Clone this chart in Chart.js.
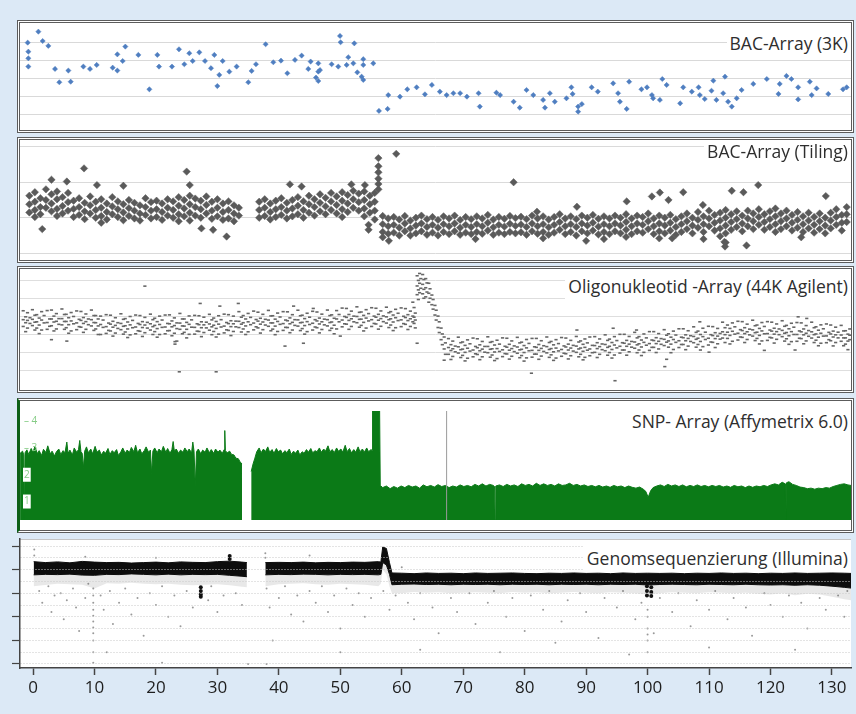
<!DOCTYPE html>
<html><head><meta charset="utf-8">
<script src="https://cdn.jsdelivr.net/npm/chart.js@4.4.1/dist/chart.umd.min.js"></script>
<style>
html,body{margin:0;padding:0;}
body{width:856px;height:714px;background:#dce9f6;position:relative;overflow:hidden;font-family:"Open Sans",sans-serif;}
.panel{position:absolute;box-sizing:border-box;border:3px double #5c5c5c;background:#fff;}
.panel canvas{display:block;}
#p4{border-left:3px solid #0c5f16;}
#p5bg{position:absolute;left:20px;top:539px;width:831px;height:129px;background:#fff;border-top:1px solid #c4c4c4;box-sizing:border-box;}
#c5{position:absolute;left:12px;top:530px;}
.ttl{position:absolute;right:5px;background:#fff;color:#2e2e2e;font-size:17.5px;line-height:24px;padding:0 3px;white-space:nowrap;z-index:5;}
</style></head>
<body>
<div class="panel" id="p1" style="left:17px;top:20px;width:837px;height:113px"><canvas id="c1" width="831" height="107"></canvas></div>
<div class="panel" id="p2" style="left:17px;top:137px;width:837px;height:126px"><canvas id="c2" width="831" height="120"></canvas></div>
<div class="panel" id="p3" style="left:17px;top:266px;width:837px;height:127px"><canvas id="c3" width="831" height="121"></canvas></div>
<div class="panel" id="p4" style="left:17px;top:398px;width:837px;height:135px"><canvas id="c4" width="831" height="129"></canvas></div>
<div id="p5bg"></div>
<canvas id="c5" width="844" height="184"></canvas>
<div class="ttl" style="top:31px">BAC-Array (3K)</div>
<div class="ttl" style="top:140px;line-height:22px">BAC-Array (Tiling)</div>
<div class="ttl" style="top:273px;line-height:26px">Oligonukleotid -Array (44K Agilent)</div>
<div class="ttl" style="top:409px">SNP- Array (Affymetrix 6.0)</div>
<div class="ttl" style="top:546px">Genomsequenzierung (Illumina)</div>
<script>
// ---------- axis values ----------
const X_MIN = -2.12, X_MAX = 133.1;
const xTicks = [0,10,20,30,40,50,60,70,80,90,100,110,120,130];
const bac3kTicks = [0,1,2,3,4];
const tilingTicks = [0,1,2,3];
const oligoTicks = [0,1,2,3,4,5];
const snpTicks = [1,2,3,4];
const illuminaTicks = [0,0.5,1,1.5,2,2.5,3,3.5,4,4.5,5];

// ---------- BAC-Array (3K): [position, value] ----------
const bac3kPoints = [
[-0.87,3.98],[-0.76,3.48],[-0.76,3.11],[-0.76,2.65],[0.87,4.59],[1.57,4.07],[2.49,3.80],[3.58,2.52],[4.28,1.78],[5.75,2.43],
[6.13,1.81],[8.19,2.65],[9.27,2.52],[10.36,2.74],[12.96,2.59],[13.72,2.43],[13.72,3.33],[14.59,2.96],[15.02,3.76],[17.14,3.30],
[18.93,1.39],[20.23,3.30],[20.50,2.65],[22.61,2.65],[23.75,3.61],[24.62,2.78],[25.43,3.39],[25.98,2.96],[27.06,3.44],[27.98,2.96],
[28.96,2.56],[29.50,3.30],[30.31,2.19],[29.99,1.57],[30.86,2.96],[31.94,2.37],[33.13,2.65],[35.03,1.78],[35.57,2.41],[36.28,2.78],
[37.85,3.89],[39.10,2.89],[40.35,2.98],[41.38,2.28],[42.62,3.02],[43.71,3.26],[44.79,2.52],[45.17,2.93],[46.42,2.37],[46.42,2.83],
[46.04,2.04],[46.42,1.85],[46.69,2.46],[48.59,2.78],[49.67,2.65],[49.95,4.35],[50.05,4.00],[51.03,2.74],[51.30,3.17],[52.28,3.94],
[52.77,2.33],[53.47,2.09],[53.74,1.91],[52.12,2.83],[53.74,3.06],[53.74,2.74],[55.37,2.83],[56.29,0.19],[57.70,0.30],[57.81,1.07],
[59.71,0.98],[60.90,1.39],[62.42,1.50],[63.77,1.11],[64.9,1.63],[66.2,1.26],[67.3,1.07],[68.4,1.17],[69.5,1.17],[70.6,0.98],
[72.5,1.17],[72.7,0.43],[75.4,1.20],[76.0,1.07],[78.2,0.70],[79.2,0.37],[80.3,1.35],[81.4,1.07],[83.0,0.80],[83.3,0.37],
[84.1,1.17],[84.9,0.70],[86.8,0.89],[87.6,1.50],[87.8,1.13],[88.7,0.43],[88.7,0.15],[89.3,0.57],[90.9,1.50],[91.9,1.26],
[94.4,1.72],[95.2,1.17],[95.5,0.70],[96.6,0.30],[97.0,1.81],[99.0,1.39],[99.9,1.50],[100.7,1.07],[100.9,0.89],[102.0,0.80],
[102.4,1.96],[103.1,1.63],[105.3,0.61],[105.8,1.50],[107.2,1.26],[108.3,1.50],[108.5,1.07],[109.3,0.85],[110.4,1.31],[110.7,1.87],
[111.2,0.80],[112.3,1.17],[112.6,2.09],[113.1,0.70],[113.7,0.43],[114.5,0.89],[115.3,1.35],[117.2,1.69],[119.4,1.96],[121.3,1.13],
[121.5,1.69],[122.6,2.13],[123.4,1.96],[124.5,1.50],[124.5,0.83],[126.4,1.81],[127.5,1.44],[126.7,1.07],[129.4,1.13],[131.8,1.39],[132.4,1.50]
];

// ---------- BAC-Array (Tiling): [position, values at that position...] ----------
const tilingCols = [
[-0.6,1.62,1.38,1.15],[0.3,1.72,1.45,1.22,1.02],[1.2,1.55,1.30,1.10],[2.1,1.80,1.50,1.28],[3.0,1.66,1.40,1.18],
[3.9,1.74,1.52,1.25,1.05],[4.8,1.58,1.33,1.12],[5.7,1.70,1.44,1.20],[6.6,1.48,1.25,1.02],[7.5,1.55,1.30,1.08],
[8.4,1.42,1.18,0.96],[9.3,1.60,1.35,1.12],[10.2,1.45,1.22,1.00],[11.1,1.52,1.28,1.05,0.86],[12.0,1.40,1.16,0.95],
[12.9,1.58,1.32,1.10],[13.8,1.46,1.24,1.02],[14.7,1.38,1.15,0.93],[15.6,1.50,1.27,1.05],[16.5,1.42,1.20,0.98],
[17.4,1.35,1.12,0.92],[18.3,1.55,1.30,1.08],[19.2,1.44,1.20,0.98],[20.1,1.48,1.24,1.02],[21.0,1.40,1.16,0.94],
[21.9,1.52,1.28,1.06],[22.8,1.46,1.22,1.00],[23.7,1.58,1.34,1.10,0.90],[24.6,1.50,1.26,1.04],[25.5,1.62,1.38,1.14,0.92],
[26.4,1.54,1.30,1.06],[27.3,1.48,1.24,1.00],[28.2,1.60,1.36,1.12],[29.1,1.45,1.20,0.97],[30.0,1.52,1.28,1.04],
[30.9,1.40,1.16,0.94],[31.8,1.46,1.22,0.98],[32.7,1.35,1.12,0.90],[33.5,1.28,1.06],
[36.8,1.45,1.22,1.00],[37.7,1.52,1.28,1.05],[38.6,1.40,1.16,0.95],[39.5,1.48,1.24,1.02],[40.4,1.55,1.30,1.08],
[41.3,1.42,1.20,0.98],[42.2,1.50,1.26,1.04],[43.1,1.58,1.34,1.10],[44.0,1.46,1.22,1.00],[44.9,1.62,1.38,1.14],
[45.8,1.52,1.30,1.06],[46.7,1.66,1.42,1.18],[47.6,1.56,1.32,1.10],[48.5,1.70,1.46,1.22],[49.4,1.60,1.36,1.12],
[50.3,1.72,1.48,1.24,1.02],[51.2,1.64,1.40,1.16],[52.1,1.76,1.52,1.28],[53.0,1.68,1.44,1.20],[53.9,1.74,1.50,1.26,1.04],
[54.8,1.62,1.38,1.14],[55.6,1.70,1.45,1.20,0.95],[56.2,2.68,2.45,2.28,2.10,1.95,1.80],
[56.9,1.05,0.82,0.60,0.45],[57.8,0.98,0.76,0.55],[58.7,1.02,0.80,0.58],[59.6,0.95,0.72,0.50],[60.5,1.05,0.84,0.62],
[61.4,0.92,0.70,0.50],[62.3,1.00,0.78,0.56],[63.2,1.06,0.84,0.62],[64.1,0.96,0.74,0.52],[65.0,1.02,0.80,0.58],
[65.9,0.94,0.72,0.50],[66.8,1.04,0.82,0.60],[67.7,0.98,0.76,0.54],[68.6,1.06,0.84,0.62],[69.5,0.94,0.72,0.52],
[70.4,1.02,0.80,0.58],[71.3,0.96,0.74,0.54],[72.2,1.04,0.82,0.60],[73.1,0.98,0.76,0.55],[74.0,1.08,0.86,0.64],
[74.9,0.95,0.73,0.52],[75.8,1.02,0.80,0.58],[76.7,0.97,0.75,0.54],[77.6,1.05,0.83,0.60],[78.5,0.99,0.77,0.56],
[79.4,1.03,0.81,0.59],[80.3,0.96,0.74,0.52],[81.2,1.06,0.84,0.62],[82.1,0.98,0.76,0.55],[83.0,1.04,0.82,0.60,0.42],
[83.9,0.95,0.73,0.52],[84.8,1.02,0.80,0.58],[85.7,1.10,0.88,0.66],[86.6,0.98,0.76,0.54],[87.5,1.04,0.82,0.60],
[88.4,0.96,0.74,0.50],[89.3,1.06,0.84,0.62],[90.2,1.00,0.78,0.56],[91.1,1.08,0.86,0.64],[92.0,0.97,0.75,0.53],
[92.9,1.04,0.82,0.60,0.40],[93.8,0.98,0.76,0.54],[94.7,1.06,0.84,0.62],[95.6,1.00,0.78,0.56],[96.5,1.10,0.88,0.66,0.46],
[97.4,0.98,0.76,0.54],[98.3,1.06,0.84,0.62],[99.2,1.02,0.80,0.58],[100.1,1.12,0.90,0.68],[101.0,0.98,0.76,0.54],
[101.9,1.06,0.84,0.62,0.42],[102.8,1.00,0.78,0.56],[103.7,1.08,0.86,0.64],[104.6,0.96,0.74,0.52],[105.5,1.04,0.82,0.60],
[106.4,1.12,0.90,0.68],[107.3,1.00,0.78,0.56],[108.2,1.16,0.94,0.72],[109.1,1.04,0.82,0.60,0.40],[110.0,1.20,0.98,0.76],
[110.9,1.08,0.86,0.64],[111.8,1.14,0.92,0.70,0.48],[112.7,1.22,1.00,0.78,0.56,0.30],[113.6,1.10,0.88,0.66],[114.5,1.18,0.96,0.74],
[115.4,1.06,0.84,0.62],[116.3,1.20,0.98,0.76],[117.2,1.12,0.90,0.68],[118.1,1.24,1.02,0.80],[119.0,1.10,0.88,0.66],
[119.9,1.18,0.96,0.74],[120.8,1.26,1.04,0.82,0.60],[121.7,1.12,0.90,0.68],[122.6,1.20,0.98,0.76],[123.5,1.08,0.86,0.64],
[124.4,1.16,0.94,0.72],[125.3,1.04,0.82,0.60],[126.2,1.14,0.92,0.70],[127.1,1.02,0.80,0.58],[128.0,1.12,0.90,0.68],
[128.9,1.00,0.78,0.56],[129.8,1.14,0.92,0.70],[130.7,1.24,1.02,0.80],[131.6,1.08,0.86,0.64],[132.4,1.30,1.10,0.88]
];
const tilingOutliers = [
[8.3,2.39],[25.0,2.30],[1.5,0.68],[31.5,0.47],[29.3,0.66],[27.4,0.70],[3.0,2.07],[5.5,2.02],[10.4,1.92],[14.7,1.90],
[25.5,1.92],[41.8,1.94],[43.7,1.88],[51.8,1.94],[54.0,1.92],[54.6,0.80],[54.6,0.66],[59.1,2.80],[78.2,2.0],[82.0,1.17],
[88.5,1.31],[96.6,1.46],[100.7,1.60],[102.0,1.71],[103.4,1.50],[105.8,1.72],[109.0,1.36],[113.7,1.76],[115.6,1.72],[118.0,1.92],
[129.0,1.61],[112.6,0.19],[112.5,0.32],[116.1,0.22],[57.9,0.35],[72.0,0.40],[90.0,0.35],[104.0,0.42],[125.0,0.45]
];

// ---------- Oligonukleotid-Array: [position, values...] ----------
const oligoCols = [
[-1.6,3.32,2.82,2.44],[-1.2,2.98,2.65,2.15],[-0.9,3.21,2.78,2.35],[-0.5,2.93,2.61],[-0.1,3.38,2.84,2.49],[0.3,3.07,2.68,2.24],
[0.6,3.10,2.70,2.35],[1.0,2.91,2.52,2.04],[1.4,3.27,2.80,2.24],[1.8,3.05,2.64],[2.3,3.33,2.66,2.28],[2.7,2.86,2.45],
[3.0,3.36,2.86,2.48],[3.4,3.02,2.69,2.19],[3.8,3.16,2.73,2.30],[4.2,2.88,2.56],[4.7,3.42,2.88,2.53],[5.1,3.11,2.72,2.28],
[5.4,3.12,2.72,2.37],[5.8,2.93,2.54,2.06],[6.2,3.22,2.75,2.19],[6.6,3.00,2.59],[7.1,3.31,2.64,2.26],[7.5,2.84,2.43],
[7.8,3.28,2.78,2.40],[8.2,2.94,2.61,2.11],[8.6,3.14,2.71,2.28],[9.0,2.86,2.54],[9.5,3.36,2.82,2.47],[9.9,3.05,2.66,2.22],
[10.2,3.05,2.65,2.30],[10.6,2.86,2.47,1.99],[11.0,3.02,2.55,1.99],[11.4,2.80,2.39],[11.9,3.10,2.43,2.05],[12.3,2.63,2.22],
[12.6,3.07,2.57,2.19],[13.0,2.73,2.40,1.90],[13.4,2.93,2.50,2.07],[13.8,2.65,2.33],[14.3,3.15,2.61,2.26],[14.7,2.84,2.45,2.01],
[15.0,2.88,2.48,2.13],[15.4,2.69,2.30,1.82],[15.8,3.00,2.53,1.97],[16.2,2.78,2.37],[16.7,3.08,2.41,2.03],[17.1,2.61,2.20],
[17.4,3.05,2.55,2.17],[17.8,2.71,2.38,1.88],[18.2,2.95,2.52,2.09],[18.6,2.67,2.35],[19.1,3.13,2.59,2.24],[19.5,2.82,2.43,1.99],
[19.8,2.90,2.50,2.15],[20.2,2.71,2.32,1.84],[20.6,3.02,2.55,1.99],[21.0,2.80,2.39],[21.5,3.08,2.41,2.03],[21.9,2.61,2.20],
[22.2,3.09,2.59,2.21],[22.6,2.75,2.42,1.92],[23.0,2.92,2.49,2.06],[23.4,2.64,2.32,1.62],[23.9,3.17,2.63,2.28],[24.3,2.86,2.47,2.03],
[24.6,2.86,2.46,2.11],[25.0,2.67,2.28,1.80],[25.4,3.03,2.56,2.00],[25.8,2.81,2.40],[26.3,3.06,2.39,2.01],[26.7,2.59,2.18],
[27.0,3.04,2.54,2.16],[27.4,2.70,2.37,1.87],[27.8,2.96,2.53,2.10],[28.2,2.68,2.36],[28.7,3.12,2.58,2.23],[29.1,2.81,2.42,1.98],
[29.4,2.91,2.51,2.16],[29.8,2.72,2.33,1.85],[30.2,3.04,2.57,2.01],[30.6,2.82,2.41],[31.1,3.13,2.46,2.08],[31.5,2.66,2.25],
[31.8,3.10,2.60,2.22],[32.2,2.76,2.43,1.93],[32.6,3.02,2.59,2.16],[33.0,2.74,2.42],[33.5,3.27,2.73,2.38],[33.9,2.96,2.57,2.13],
[34.2,3.05,2.65,2.30],[34.6,2.86,2.47,1.99],[35.0,3.17,2.70,2.14],[35.4,2.95,2.54],[35.9,3.30,2.63,2.25],[36.3,2.83,2.42],
[36.6,3.24,2.74,2.36],[37.0,2.90,2.57,2.07],[37.4,3.12,2.69,2.26],[37.8,2.84,2.52],[38.3,3.34,2.80,2.45],[38.7,3.03,2.64,2.20],
[39.0,3.04,2.64,2.29],[39.4,2.85,2.46,1.98],[39.8,3.19,2.72,2.16],[40.2,2.97,2.56],[40.7,3.27,2.60,2.22],[41.1,2.80,2.39],
[41.4,3.26,2.76,2.38],[41.8,2.92,2.59,2.09],[42.2,3.10,2.67,2.24],[42.6,2.82,2.50],[43.1,3.35,2.81,2.46],[43.5,3.04,2.65,2.21],
[43.8,3.07,2.67,2.32],[44.2,2.88,2.49,2.01],[44.6,3.18,2.71,2.15],[45.0,2.96,2.55],[45.5,3.29,2.62,2.24],[45.9,2.82,2.41],
[46.2,3.25,2.75,2.37],[46.6,2.91,2.58,2.08],[47.0,3.13,2.70,2.27],[47.4,2.85,2.53],[47.9,3.36,2.82,2.47],[48.3,3.05,2.66,2.22],
[48.6,3.09,2.69,2.34],[49.0,2.90,2.51,2.03],[49.4,3.33,2.86,2.30],[49.8,3.11,2.70],[50.3,3.47,2.80,2.42],[50.7,3.00,2.59],
[51.0,3.45,2.95,2.57],[51.4,3.11,2.78,2.28],[51.8,3.30,2.87,2.44],[52.2,3.02,2.70],[52.7,3.54,3.00,2.65],[53.1,3.23,2.84,2.40],
[53.4,3.25,2.85,2.50],[53.8,3.06,2.67,2.19],[54.2,3.38,2.91,2.35],[54.6,3.16,2.75],[55.1,3.49,2.82,2.44],[55.5,3.02,2.61],
[55.8,3.46,2.96,2.58],[56.2,3.12,2.79,2.29],[56.6,3.31,2.88,2.45],[57.0,3.03,2.71],[57.5,3.52,2.98,2.63],[57.9,3.21,2.82,2.38],
[58.2,3.27,2.87,2.52],[58.6,3.08,2.69,2.21],[59.0,3.40,2.93,2.37],[59.4,3.18,2.77],[59.9,3.48,2.81,2.43],[60.3,3.01,2.60],
[60.6,3.44,2.94,2.56],[61.0,3.10,2.77,2.27],[61.4,3.30,2.87,2.44],[61.8,3.02,2.70],[62.0,3.50,2.96,2.61],[62.2,3.19,2.80,2.36],
[62.5,5.28,4.71,4.22],[62.7,5.02,4.49,3.95],[62.9,5.41,4.86,4.33],[63.1,5.12,4.58],[63.4,5.35,4.80,4.27],[63.6,5.07,4.52,4.02],
[63.9,5.12,4.61,4.10],[64.1,4.88,4.37],[64.4,4.86,4.30,3.80],[64.6,4.55,4.02],[64.9,4.20,3.66],[65.1,3.95,3.41],
[65.4,3.62,3.08],[65.6,3.35,2.80],[65.9,3.02,2.38],[66.1,2.70,2.10],[66.4,2.35,1.70],[66.6,2.02,1.42],[66.9,1.85,1.18,0.55],[67.1,1.52,0.88],
[67.6,1.76,1.26,0.88],[68.0,1.42,1.09,0.59],[68.3,1.62,1.19,0.76],[68.7,1.34,1.02],[69.2,1.84,1.30,0.95],[69.6,1.53,1.14,0.70],
[69.9,1.57,1.17,0.82],[70.3,1.38,0.99,0.51],[70.7,1.69,1.22,0.66],[71.1,1.47,1.06],[71.6,1.79,1.12,0.74],[72.0,1.32,0.91],
[72.3,1.75,1.25,0.87],[72.7,1.41,1.08,0.58],[73.1,1.60,1.17,0.74],[73.5,1.32,1.00],[74.0,1.86,1.32,0.97],[74.4,1.55,1.16,0.72],
[74.7,1.59,1.19,0.84],[75.1,1.40,1.01,0.53],[75.5,1.67,1.20,0.64],[75.9,1.45,1.04],[76.4,1.80,1.13,0.75],[76.8,1.33,0.92],
[77.1,1.78,1.28,0.90],[77.5,1.44,1.11,0.61],[77.9,1.63,1.20,0.77],[78.3,1.35,1.03],[78.8,1.83,1.29,0.94],[79.2,1.52,1.13,0.69],
[79.5,1.56,1.16,0.81],[79.9,1.37,0.98,0.50],[80.3,1.71,1.24,0.68],[80.7,1.49,1.08],[81.2,1.77,1.10,0.72],[81.6,1.30,0.89],
[81.9,1.77,1.27,0.89],[82.3,1.43,1.10,0.60],[82.7,1.64,1.21,0.78],[83.1,1.36,1.04],[83.6,1.85,1.31,0.96],[84.0,1.54,1.15,0.71],
[84.3,1.60,1.20,0.85],[84.7,1.41,1.02,0.54],[85.1,1.70,1.23,0.67],[85.5,1.48,1.07],[86.0,1.82,1.15,0.77],[86.4,1.35,0.94],
[86.7,1.79,1.29,0.91],[87.1,1.45,1.12,0.62],[87.5,1.66,1.23,0.80],[87.9,1.38,1.06],[88.4,1.88,1.34,0.99],[88.8,1.57,1.18,0.74],
[89.1,1.63,1.23,0.88],[89.5,1.44,1.05,0.57],[89.8,1.74,1.27,0.71],[90.2,1.52,1.11],[90.6,1.85,1.18,0.80],[91.0,1.38,0.97],
[91.4,1.87,1.37,0.99],[91.8,1.53,1.20,0.70],[92.2,1.74,1.31,0.88],[92.6,1.46,1.14],[93.1,1.97,1.43,1.08],[93.5,1.66,1.27,0.83],
[93.8,1.73,1.33,0.98],[94.2,1.54,1.15,0.67],[94.6,1.87,1.40,0.84],[95.0,1.65,1.24],[95.5,2.00,1.33,0.95],[95.9,1.53,1.12],
[96.2,2.00,1.50,1.12],[96.6,1.66,1.33,0.83],[97.0,1.88,1.45,1.02],[97.4,1.60,1.28],[97.9,2.11,1.57,1.22],[98.3,1.80,1.41,0.97],
[98.6,1.87,1.47,1.12],[99.0,1.68,1.29,0.81],[99.4,2.02,1.55,0.99],[99.8,1.80,1.39],[100.3,2.15,1.48,1.10],[100.7,1.68,1.27],
[101.0,2.15,1.65,1.27],[101.4,1.81,1.48,0.98],[101.8,2.04,1.61,1.18],[102.2,1.76,1.44],[102.7,2.26,1.72,1.37],[103.1,1.95,1.56,0.60],
[103.4,2.03,1.63,1.28],[103.8,1.84,1.45,0.97],[104.2,2.18,1.71,1.15],[104.6,1.96,1.55],[105.1,2.31,1.64,1.26],[105.5,1.84,1.43],
[105.8,2.31,1.81,1.43],[106.2,1.97,1.64,1.14],[106.6,2.20,1.77,1.34],[107.0,1.92,1.60],[107.5,2.42,1.88,1.53],[107.9,2.11,1.72,1.28],
[108.2,2.18,1.78,1.43],[108.6,1.99,1.60,1.12],[109.0,2.34,1.87,1.31],[109.4,2.12,1.71],[109.9,2.45,1.78,1.40],[110.3,1.98,1.57],
[110.6,2.43,1.93,1.55],[111.0,2.09,1.76,1.26],[111.4,2.33,1.90,1.47],[111.8,2.05,1.73],
[112.2,2.68,2.14,1.79],[112.6,2.37,1.98,1.54],[113.0,2.52,2.12,1.77],[113.4,2.33,1.94,1.46],[113.8,2.64,2.17,1.61],[114.2,2.42,2.01],
[114.7,2.73,2.06,1.68],[115.1,2.26,1.85],[115.4,2.71,2.21,1.83],[115.8,2.37,2.04,1.54],[116.2,2.57,2.14,1.71],[116.6,2.29,1.97],
[117.1,2.79,2.25,1.90],[117.5,2.48,2.09,1.65],[117.8,2.52,2.12,1.77],[118.2,2.33,1.94,1.46],[118.6,2.66,2.19,1.63],[119.0,2.44,2.03],
[119.5,2.71,2.04,1.66],[119.9,2.24,1.83],[120.2,2.68,2.18,1.80],[120.6,2.34,2.01,1.51],[121.0,2.58,2.15,1.72],[121.4,2.30,1.98],
[121.9,2.76,2.22,1.87],[122.3,2.45,2.06,1.62],[122.6,2.50,2.10,1.75],[123.0,2.31,1.92,1.44],[123.4,2.62,2.15,1.59],[123.8,2.40,1.99],
[124.3,2.66,1.99,1.61],[124.7,2.19,1.78],[125.0,2.64,2.14,1.76],[125.4,2.30,1.97,1.47],[125.8,2.49,2.06,1.63],[126.2,2.21,1.89],
[126.7,2.68,2.14,1.79],[127.1,2.37,1.98,1.54],[127.4,2.42,2.02,1.67],[127.8,2.23,1.84,1.36],[128.2,2.53,2.06,1.50],[128.6,2.31,1.90],
[129.1,2.58,1.91,1.53],[129.5,2.11,1.70],[129.8,2.52,2.02,1.64],[130.2,2.18,1.85,1.35],[130.6,2.40,1.97,1.54],[131.0,2.12,1.80],
[131.5,2.50,1.96,1.61],[131.9,2.19,1.80,1.36],[132.2,2.20,1.80,1.45],[132.6,2.01,1.62,1.14],[132.9,2.30,1.95,1.70]
];
const oligoOutliers = [
[18.2,4.70],[23.8,-0.10],[29.8,-0.10],[41.0,1.34],[23.1,1.59],[23.1,1.45],[27.2,3.73],[33.4,3.73],[30.4,3.58],[42.4,3.58],
[45.6,3.45],[94.7,-0.60],[81.1,-0.18],[108.5,2.70],[124.5,2.98],[125.9,2.89],[102.8,0.19],[88.5,2.24],[94.4,2.34],[98.2,2.24],
[124.0,1.12],[3.0,1.70],[5.5,1.62],[44.0,1.50],[50.0,1.90],[61.8,3.80],[62.5,1.50],[110.0,1.00],[119.0,1.10]
];

// ---------- SNP-Array (Affymetrix 6.0): [position, copy-number level] ----------
const snpProfile = [
[-2.1,2.80],[-1.7,2.88],[-1.5,2.74],[-1.4,0.31],[-1.3,2.82],[-1.0,2.93],[-0.7,2.76],[-0.3,2.98],[0.0,2.84],[0.3,3.05],
[0.7,2.79],[1.0,2.90],[1.4,2.72],[1.7,2.95],[2.1,2.83],[2.4,3.08],[2.8,2.78],[3.1,2.88],[3.5,2.70],[3.8,2.86],
[4.2,2.96],[4.5,2.76],[4.9,2.90],[5.2,2.82],[5.5,3.22],[5.7,2.80],[6.0,2.92],[6.4,2.74],[6.7,3.00],[7.1,2.84],
[7.4,2.94],[7.6,3.28],[7.8,2.86],[8.0,2.80],[8.2,2.26],[8.4,2.88],[8.7,3.04],[9.0,2.82],[9.4,2.96],[9.7,2.78],
[10.1,3.06],[10.4,2.84],[10.8,2.92],[11.1,2.74],[11.5,2.88],[11.8,2.80],[12.2,2.98],[12.5,2.76],[12.9,2.90],[13.2,2.82],
[13.6,2.94],[13.9,2.72],[14.3,2.86],[14.6,3.00],[15.0,2.80],[15.3,2.92],[15.7,2.84],[16.0,3.02],[16.4,2.86],[16.7,3.10],
[17.0,2.82],[17.4,2.96],[17.7,2.78],[18.1,2.90],[18.4,3.04],[18.8,2.84],[19.1,2.92],[19.3,2.04],[19.5,2.88],[19.8,3.00],
[20.2,2.82],[20.5,2.96],[20.9,2.86],[21.2,3.06],[21.6,2.84],[21.9,2.98],[22.3,2.80],[22.6,2.94],[22.8,3.24],[23.0,2.88],
[23.3,2.96],[23.7,2.80],[24.0,2.92],[24.4,2.84],[24.7,3.00],[25.1,2.86],[25.4,2.96],[25.8,2.82],[26.0,3.22],[26.2,2.88],
[26.4,1.57],[26.6,2.86],[26.9,2.96],[27.3,2.78],[27.6,2.92],[28.0,2.84],[28.3,3.00],[28.7,2.82],[29.0,2.94],[29.4,2.80],
[29.7,2.96],[30.1,2.84],[30.4,2.92],[30.8,2.80],[31.1,2.94],[31.2,3.65],[31.3,2.90],[31.6,2.82],[32.0,2.88],[32.3,2.76],
[32.7,2.74],[33.0,2.62],[33.4,2.60],[33.7,2.48],[34.0,2.40],[34.7,null],
[35.5,2.12],[35.8,2.40],[36.1,2.62],[36.4,2.86],[36.8,3.00],[37.1,2.82],[37.5,2.96],[37.8,2.86],[38.2,3.04],[38.5,2.84],
[38.9,2.94],[39.2,2.80],[39.6,2.98],[39.9,2.86],[40.3,2.92],[40.6,2.78],[41.0,2.90],[41.3,2.82],[41.7,2.96],[42.0,2.76],
[42.4,2.88],[42.7,2.80],[43.1,2.92],[43.4,2.74],[43.8,2.86],[44.1,2.80],[44.5,2.94],[44.8,2.84],[45.2,2.98],[45.5,2.82],
[45.9,2.90],[46.2,2.86],[46.6,3.00],[46.9,2.84],[47.3,2.96],[47.6,2.88],[48.0,3.08],[48.3,2.86],[48.7,2.94],[49.0,2.82],
[49.4,3.00],[49.7,2.88],[50.1,2.96],[50.4,2.84],[50.8,3.10],[51.1,2.86],[51.5,2.98],[51.8,2.82],[52.2,2.94],[52.5,2.84],
[52.9,3.04],[53.2,2.86],[53.6,2.96],[53.9,2.84],[54.3,3.00],[54.6,2.86],[55.0,2.94],[55.2,2.90],[55.25,4.38],[56.4,4.38],
[56.5,1.60],[56.9,1.52],[57.5,1.58],[58.1,1.48],[58.7,1.56],[59.3,1.50],[59.9,1.58],[60.5,1.52],[61.1,1.60],[61.7,1.54],
[62.3,1.58],[62.9,1.50],[63.5,1.62],[64.1,1.55],[64.7,1.60],[65.3,1.54],[65.9,1.63],[66.5,1.56],[67.1,1.60],[67.7,1.52],
[68.3,1.58],[68.9,1.54],[69.5,1.62],[70.1,1.56],[70.7,1.60],[71.3,1.55],[71.9,1.64],[72.5,1.58],[73.1,1.66],[73.7,1.58],
[74.3,1.64],[74.9,1.60],[75.1,1.56],[75.2,0.31],[75.3,1.58],[75.9,1.62],[76.5,1.56],[77.1,1.64],[77.7,1.58],[78.3,1.62],
[78.9,1.56],[79.5,1.66],[80.1,1.60],[80.7,1.64],[81.3,1.58],[81.9,1.68],[82.5,1.60],[83.1,1.66],[83.7,1.60],[84.3,1.64],
[84.9,1.58],[85.5,1.66],[86.1,1.60],[86.7,1.62],[87.3,1.68],[87.9,1.60],[88.5,1.64],[89.1,1.58],[89.7,1.62],[90.3,1.56],
[90.9,1.60],[91.5,1.55],[92.1,1.60],[92.7,1.54],[93.3,1.58],[93.9,1.53],[94.5,1.60],[95.1,1.55],[95.7,1.58],[96.3,1.52],
[96.9,1.58],[97.5,1.53],[98.1,1.50],[98.7,1.54],[99.3,1.46],[99.7,1.38],[100.1,1.16],[100.5,1.40],[100.9,1.52],[101.5,1.58],
[102.1,1.62],[102.7,1.56],[103.3,1.64],[103.9,1.58],[104.5,1.62],[105.1,1.56],[105.7,1.62],[106.3,1.55],[106.9,1.60],[107.5,1.56],
[108.1,1.62],[108.7,1.56],[109.3,1.60],[109.9,1.55],[110.5,1.60],[111.1,1.56],[111.7,1.60],[112.3,1.54],[112.9,1.58],[113.5,1.53],
[114.1,1.60],[114.7,1.55],[115.3,1.58],[115.9,1.52],[116.5,1.58],[117.1,1.53],[117.7,1.58],[118.3,1.55],[118.9,1.60],[119.5,1.56],
[120.1,1.62],[120.7,1.66],[121.3,1.62],[121.9,1.72],[122.4,1.66],[122.5,0.31],[122.6,1.70],[123.0,1.74],[123.6,1.64],[124.2,1.60],
[124.8,1.54],[125.4,1.52],[126.0,1.48],[126.6,1.50],[127.2,1.46],[127.8,1.50],[128.4,1.48],[129.0,1.52],[129.6,1.50],[130.2,1.56],
[130.8,1.60],[131.4,1.64],[132.0,1.66],[132.6,1.62],[133.1,1.60]
];
const snpMarkerX = [67.3];

// ---------- Genomsequenzierung (Illumina): [position, band top, band bottom, fringe bottom] ----------
const illuminaBand = [
[0.1,4.34,3.78,3.30],[2,4.30,3.80,3.35],[4,4.33,3.79,3.40],[6,4.29,3.81,3.38],[8,4.35,3.77,3.36],[10,4.32,3.76,3.20],
[12,4.30,3.80,3.42],[14,4.31,3.79,3.40],[16,4.28,3.82,3.44],[18,4.30,3.80,3.40],[20,4.32,3.78,3.38],[22,4.29,3.81,3.40],
[24,4.33,3.78,3.36],[26,4.31,3.80,3.34],[28,4.30,3.79,3.36],[30,4.34,3.80,3.38],[32,4.36,3.76,3.34],[34,4.32,3.72,3.28],
[34.8,4.30,3.70,3.25],[36.3,null,null,null],
[37.8,4.30,3.78,3.30],[40,4.31,3.80,3.38],[42,4.30,3.79,3.40],[44,4.32,3.81,3.42],[46,4.29,3.80,3.38],[48,4.31,3.78,3.36],
[50,4.30,3.80,3.40],[52,4.32,3.79,3.38],[54,4.31,3.80,3.36],[56.2,4.34,3.78,3.30],[56.6,4.32,3.80,3.40],[56.9,4.96,4.30,4.00],
[57.5,4.90,4.20,3.80],[58.0,4.30,3.80,3.30],[58.4,3.86,3.36,3.00],
[60,3.85,3.38,3.00],[62,3.83,3.39,3.05],[64,3.86,3.37,3.02],[66,3.84,3.38,3.04],[68,3.85,3.36,3.00],[70,3.83,3.38,3.02],
[72,3.86,3.37,3.04],[74,3.84,3.38,3.02],[76,3.85,3.36,3.00],[78,3.86,3.38,3.05],[80,3.84,3.37,3.02],[82,3.83,3.38,3.04],
[84,3.85,3.36,3.00],[86,3.84,3.38,3.02],[88,3.86,3.37,3.05],[90,3.84,3.38,3.02],[92,3.85,3.36,3.00],[94,3.83,3.38,3.04],
[96,3.86,3.37,3.02],[98,3.84,3.38,3.00],[100,3.85,3.35,2.95],[102,3.84,3.37,3.00],[104,3.85,3.38,3.04],[106,3.83,3.37,3.02],
[108,3.85,3.36,3.00],[110,3.84,3.38,3.04],[112,3.86,3.37,3.02],[114,3.84,3.36,3.00],[116,3.85,3.38,3.02],[118,3.83,3.36,2.98],
[120,3.85,3.35,2.95],[122,3.84,3.36,3.00],[124,3.86,3.34,2.92],[126,3.84,3.36,2.98],[128,3.85,3.34,2.95],[130,3.86,3.30,2.85],
[132,3.85,3.25,2.75],[133.1,3.84,3.22,2.70]
];
const illuminaNoise = [
[1,3.1],[1.5,2.6],[2.5,3.3],[3,2.2],[3.5,2.9],[4.5,3.0],[5,1.9],[5.5,2.7],[6.5,3.2],[7,2.4],[7.5,1.4],[8.5,2.8],[9,3.4],
[11,2.9],[11.5,2.3],[12.5,3.1],[13,1.7],[14,2.6],[15,3.2],[16,2.1],[17,2.8],[18,1.2],[19,3.0],[20,2.5],[21,3.3],[22,2.0],
[23,2.9],[24,1.6],[25,3.1],[26,2.4],[28.5,2.7],[29,3.3],[30,2.2],[31,2.9],[33,3.0],[34,2.5],[38,3.2],[38.5,2.4],[39,1.0],
[40,2.8],[41,3.3],[42,2.1],[43,2.9],[44,1.8],[45,3.1],[46,2.6],[47,3.3],[48,2.2],[49,2.9],[50,1.5],[51,3.2],[52,2.5],
[53,3.0],[54,2.0],[55,2.8],[57,3.1],[58,2.3],[59,2.9],[61,2.6],[62,1.9],[63,3.0],[65,2.4],[66,1.3],[68,2.8],[69,2.2],
[71,3.0],[72,1.7],[74,2.6],[75,3.1],[77,2.0],[78,2.8],[80,1.4],[81,2.9],[83,2.3],[84,3.1],[86,1.8],[87,2.7],[89,3.0],
[90,2.2],[92,1.1],[93,2.8],[95,2.4],[96,3.1],[98,1.9],[99,2.6],[101,1.3],[102,2.8],[104,2.2],[105,3.0],[107,1.6],[108,2.7],
[110,2.3],[111,3.1],[113,1.9],[114,2.8],[116,2.4],[117,1.2],[119,3.0],[120,2.5],[122,2.0],[123,2.9],[125,2.6],[126,1.5],
[128,2.8],[129,2.3],[131,2.9],[132,2.0],[132.5,3.1],
[9.8,0.05],[9.8,0.5],[9.8,1.0],[9.8,1.3],[9.8,1.55],[9.8,1.8],[9.8,2.05],[9.8,2.3],[9.8,2.6],[9.8,2.9],[9.8,3.2],
[100,0.5],[100,1.0],[100,1.25],[100,1.5],[100,2.0],[100,2.3],
[0.2,4.6],[0.2,4.85],[8.5,4.55],[37.8,4.7],[37.8,4.5],[45,4.6],[20,4.5],[60,4.1],[90,4.05],[115,4.1],
[12,0.5],[21,0.05],[35,0.0],[38,0.0],[50,0.5],[63,0.6],[76,0.5],[85,0.9],[97,0.4],[110,0.7],[124,0.6]
];
const illuminaBlobs = [
[27.3,3.25],[27.3,3.1],[27.3,2.95],[27.3,2.85],[32.0,4.45],[32.0,4.58],
[99.9,3.3],[99.9,3.1],[99.9,2.9],[100.6,3.25],[100.6,3.05],[100.6,2.88]
];

// ---------- helpers ----------
Chart.defaults.font.family = "'Open Sans', sans-serif";
const pairs = arr => arr.map(p => ({x: p[0], y: p[1]}));
const cols = arr => arr.flatMap(c => c.slice(1).map(v => ({x: c[0], y: v})));
const col = (arr, i) => arr.map(r => ({x: r[0], y: r[i]}));
const setTicks = list => (s => { s.ticks = list.map(v => ({value: v})); });

function panelOptions(yMin, yMax, yTicks, gridColor) {
  return {
    responsive: false, animation: false, events: [],
    layout: {padding: 0, autoPadding: false},
    plugins: {legend: {display: false}, tooltip: {enabled: false}},
    scales: {
      x: {type: 'linear', display: false, min: X_MIN, max: X_MAX},
      y: {type: 'linear', min: yMin, max: yMax,
          afterBuildTicks: setTicks(yTicks),
          afterFit: s => { s.width = 0; },
          ticks: {display: false},
          grid: {color: gridColor, drawTicks: false, lineWidth: 1},
          border: {display: false}}
    }
  };
}

// Panel 1
new Chart(document.getElementById('c1'), {
  type: 'scatter',
  data: {datasets: [{data: pairs(bac3kPoints), pointStyle: 'rectRot', pointRadius: 2.6,
    backgroundColor: '#4f7ec0', borderColor: '#4f7ec0', borderWidth: 0.5}]},
  options: panelOptions(-0.87, 5.07, bac3kTicks, '#d9d9d9')
});

// Panel 2
new Chart(document.getElementById('c2'), {
  type: 'scatter',
  data: {datasets: [{data: cols(tilingCols).concat(pairs(tilingOutliers)), pointStyle: 'rectRot', pointRadius: 3.7,
    backgroundColor: '#5a5a5a', borderColor: '#5a5a5a', borderWidth: 0.5}]},
  options: panelOptions(-0.19, 3.19, tilingTicks, '#dadada')
});

// Panel 3
new Chart(document.getElementById('c3'), {
  type: 'scatter',
  data: {datasets: [{data: cols(oligoCols).concat(pairs(oligoOutliers)), pointStyle: 'line', pointRadius: 1.6,
    backgroundColor: '#666', borderColor: '#666', borderWidth: 1.6}]},
  options: panelOptions(-1.12, 5.66, oligoTicks, '#dedede')
});

// Panel 4
const o4 = panelOptions(0.31, 4.38, snpTicks, '#ffffff');
o4.scales.y.grid = {display: false, drawTicks: false};
o4.scales.y.ticks = {
  display: true, mirror: true, padding: 4, color: '#86cc86', font: {size: 10}, z: 1,
  callback: v => (v >= 3 ? '\u2013 ' + v : '' + v),
  showLabelBackdrop: c => !!(c.tick && c.tick.value <= 2),
  backdropColor: '#ffffff', backdropPadding: 1
};
new Chart(document.getElementById('c4'), {
  type: 'line',
  data: {datasets: [
    {data: snpMarkerX.flatMap(x => [{x: x, y: 0.31}, {x: x, y: 4.38}]), borderColor: '#9a9a9a', borderWidth: 1,
     pointRadius: 0, fill: false, order: 0},
    {data: pairs(snpProfile), borderColor: '#0b7a17', backgroundColor: '#0b7a17', borderWidth: 1,
     pointRadius: 0, fill: 'start', tension: 0, spanGaps: false, order: 1}
  ]},
  options: o4
});

// Panel 5
new Chart(document.getElementById('c5'), {
  type: 'line',
  data: {datasets: [
    {data: col(illuminaBand, 1), borderColor: '#0d0d0d', backgroundColor: '#0d0d0d', borderWidth: 1, pointRadius: 0, fill: '+1', order: 1},
    {data: col(illuminaBand, 2), borderColor: '#0d0d0d', borderWidth: 1, pointRadius: 0, fill: false, order: 1},
    {data: col(illuminaBand, 2), borderColor: 'rgba(0,0,0,0)', backgroundColor: 'rgba(0,0,0,0.09)', borderWidth: 0, pointRadius: 0, fill: '+1', order: 3},
    {data: col(illuminaBand, 3), borderColor: 'rgba(0,0,0,0)', borderWidth: 0, pointRadius: 0, fill: false, order: 3},
    {type: 'scatter', data: pairs(illuminaNoise), showLine: false, pointRadius: 1, pointStyle: 'circle',
     backgroundColor: 'rgba(0,0,0,0.4)', borderWidth: 0, order: 2},
    {type: 'scatter', data: pairs(illuminaBlobs), showLine: false, pointRadius: 2, pointStyle: 'circle',
     backgroundColor: '#111', borderWidth: 0, order: 0}
  ]},
  options: {
    responsive: false, animation: false, events: [],
    layout: {padding: {left: 0, top: 9, right: 5, bottom: 0}, autoPadding: false},
    plugins: {legend: {display: false}, tooltip: {enabled: false}},
    scales: {
      x: {type: 'linear', min: X_MIN, max: X_MAX,
          afterBuildTicks: setTicks(xTicks),
          afterFit: s => { s.height = 46; },
          grid: {drawOnChartArea: false, drawTicks: true, tickLength: 7, tickColor: '#444', tickWidth: 1.5},
          border: {color: '#444', width: 1.5},
          ticks: {color: '#1e1e1e', font: {size: 17}, padding: 3, maxRotation: 0, autoSkip: false}},
      y: {type: 'linear', position: 'left', min: -0.17, max: 5.3,
          afterBuildTicks: setTicks(illuminaTicks),
          afterFit: s => { s.width = 8; },
          ticks: {display: false},
          grid: {color: '#c8c8c8', lineWidth: 1, tickLength: 8, tickWidth: 1.2, z: 1,
                 tickColor: c => (c.tick && Number.isInteger(c.tick.value)) ? '#444' : 'rgba(0,0,0,0)'},
          border: {color: '#444', width: 1.5, dash: [1, 2], z: 1}}
    }
  }
});
</script>
</body></html>
